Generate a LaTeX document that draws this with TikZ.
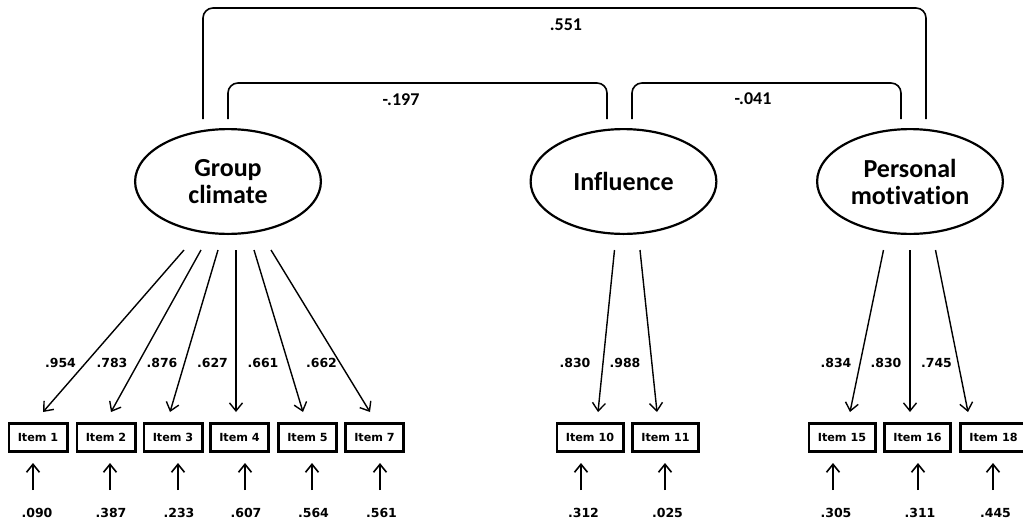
\documentclass[tikz,border=0pt]{standalone}
\usepackage{fontspec}
\usetikzlibrary{shapes.geometric,arrows.meta}
\newfontfamily\dvfont{DejaVu Sans}
\newfontfamily\carlfont{Carlito}[Ligatures={NoCommon}]
\tikzset{
  lat/.style={ellipse, draw, line width=2.2pt, minimum width=185.8pt, minimum height=104.8pt,
    inner sep=0pt, align=center, font=\carlfont\bfseries\fontsize{26}{27}\selectfont},
  itembox/.style={draw, line width=2.8pt, minimum height=28.2pt, inner sep=0pt,
    font=\dvfont\bfseries\fontsize{11.2}{13}\selectfont},
  single/.style={itembox, minimum width=58.2pt},
  double/.style={itembox, minimum width=66.2pt},
  num/.style={inner sep=0pt, font=\dvfont\bfseries\fontsize{12.5}{14}\selectfont},
  cor/.style={inner sep=0pt, font=\carlfont\bfseries\fontsize{18}{20}\selectfont},
  load/.style={line width=1.4pt, -{Straight Barb[length=8pt,width=13pt,line width=1.4pt]}},
  err/.style={line width=1.6pt, -{Straight Barb[length=8pt,width=13pt,line width=1.6pt]},
    shorten <=18pt, shorten >=10pt},
  link/.style={line width=1.6pt, rounded corners=10pt},
}
\begin{document}
\begin{tikzpicture}[x=1pt,y=-1pt]
\useasboundingbox (0,0) rectangle (1023,525);
\clip (0,0) rectangle (1023,525);
\fill[white] (0,0) rectangle (1023,525);

% latent variables
\node[lat] (gc) at (228,181.5) {Group\\climate};
\node[lat] (inf) at (623.5,181.5) {Influence};
\node[lat] (pm) at (910,181.5) {Personal\\motivation};

% items
\node[single] (i1) at (38,437.5) {Item 1};
\node[single] (i2) at (106,437.5) {Item 2};
\node[single] (i3) at (173,437.5) {Item 3};
\node[single] (i4) at (239.5,437.5) {Item 4};
\node[single] (i5) at (307.5,437.5) {Item 5};
\node[single] (i7) at (374.5,437.5) {Item 7};
\node[double] (i10) at (590,437.5) {Item 10};
\node[double] (i11) at (665.5,437.5) {Item 11};
\node[double] (i15) at (842,437.5) {Item 15};
\node[double] (i16) at (917.5,437.5) {Item 16};
\node[double] (i18) at (993.5,437.5) {Item 18};

% loadings
\draw[load] ([xshift=-44pt,yshift=-15pt]gc.south) -- ([xshift=5pt,yshift=10pt]i1.north);
\draw[load] ([xshift=-27pt,yshift=-15pt]gc.south) -- ([xshift=5pt,yshift=10pt]i2.north);
\draw[load] ([xshift=-10pt,yshift=-15pt]gc.south) -- ([xshift=-3pt,yshift=10pt]i3.north);
\draw[load] ([xshift=8pt,yshift=-15pt]gc.south) -- ([xshift=-3.5pt,yshift=10pt]i4.north);
\draw[load] ([xshift=26pt,yshift=-15pt]gc.south) -- ([xshift=-4.5pt,yshift=10pt]i5.north);
\draw[load] ([xshift=43pt,yshift=-15pt]gc.south) -- ([xshift=-4.5pt,yshift=10pt]i7.north);
\draw[load] ([xshift=-9pt,yshift=-15pt]inf.south) -- ([xshift=8pt,yshift=10pt]i10.north);
\draw[load] ([xshift=16.5pt,yshift=-15pt]inf.south) -- ([xshift=-8.5pt,yshift=10pt]i11.north);
\draw[load] ([xshift=-26.5pt,yshift=-15pt]pm.south) -- ([xshift=8pt,yshift=10pt]i15.north);
\draw[load] ([xshift=0pt,yshift=-15pt]pm.south) -- ([xshift=-7.5pt,yshift=10pt]i16.north);
\draw[load] ([xshift=25.5pt,yshift=-15pt]pm.south) -- ([xshift=-25.5pt,yshift=10pt]i18.north);

% loading values
\node[num] (l1) at (60.5,363) {.954};
\node[num] (l2) at (112,363) {.783};
\node[num] (l3) at (162,363) {.876};
\node[num] (l4) at (212.5,363) {.627};
\node[num] (l5) at (263,363) {.661};
\node[num] (l7) at (321.5,363) {.662};
\node[num] (l10) at (575,363) {.830};
\node[num] (l11) at (625,363) {.988};
\node[num] (l15) at (836,363) {.834};
\node[num] (l16) at (886,363) {.830};
\node[num] (l18) at (936.5,363) {.745};

% error values
\node[num] (e1) at (37,513) {.090};
\node[num] (e2) at (111,513) {.387};
\node[num] (e3) at (179,513) {.233};
\node[num] (e4) at (246,513) {.607};
\node[num] (e5) at (313.5,513) {.564};
\node[num] (e7) at (381.5,513) {.561};
\node[num] (e10) at (583.5,513) {.312};
\node[num] (e11) at (667.5,513) {.025};
\node[num] (e15) at (836,513) {.305};
\node[num] (e16) at (920,513) {.311};
\node[num] (e18) at (995.5,513) {.445};

\foreach \k/\s in {1/-4,2/-1,3/-1,4/-1,5/-1.5,7/-1.5,10/-2.5,11/-2.5,15/-3,16/-2,18/-2.5}{
  \draw[err] ([xshift=\s pt]e\k.north) -- ([xshift=\s pt]e\k.north |- i\k.south);
}

% correlations
\coordinate (topA) at (0,8);
\coordinate (topB) at (0,83);
\coordinate (o1) at ([xshift=-25pt,yshift=9pt]gc.north);
\coordinate (o2) at ([xshift=16pt,yshift=9pt]pm.north);
\coordinate (g1) at ([yshift=9pt]gc.north);
\coordinate (f1) at ([xshift=-16.5pt,yshift=9pt]inf.north);
\coordinate (f2) at ([xshift=8.5pt,yshift=9pt]inf.north);
\coordinate (p1) at ([xshift=-9pt,yshift=9pt]pm.north);
\draw[link] (o1) -- (o1 |- topA) -- (o2 |- topA) -- (o2);
\draw[link] (g1) -- (g1 |- topB) -- (f1 |- topB) -- (f1);
\draw[link] (f2) -- (f2 |- topB) -- (p1 |- topB) -- (p1);
\node[cor] (r1) at (566,25) {.551};
\node[cor] (r2) at (401,100) {-.197};
\node[cor] (r3) at (753,99) {-.041};
\end{tikzpicture}
\end{document}
